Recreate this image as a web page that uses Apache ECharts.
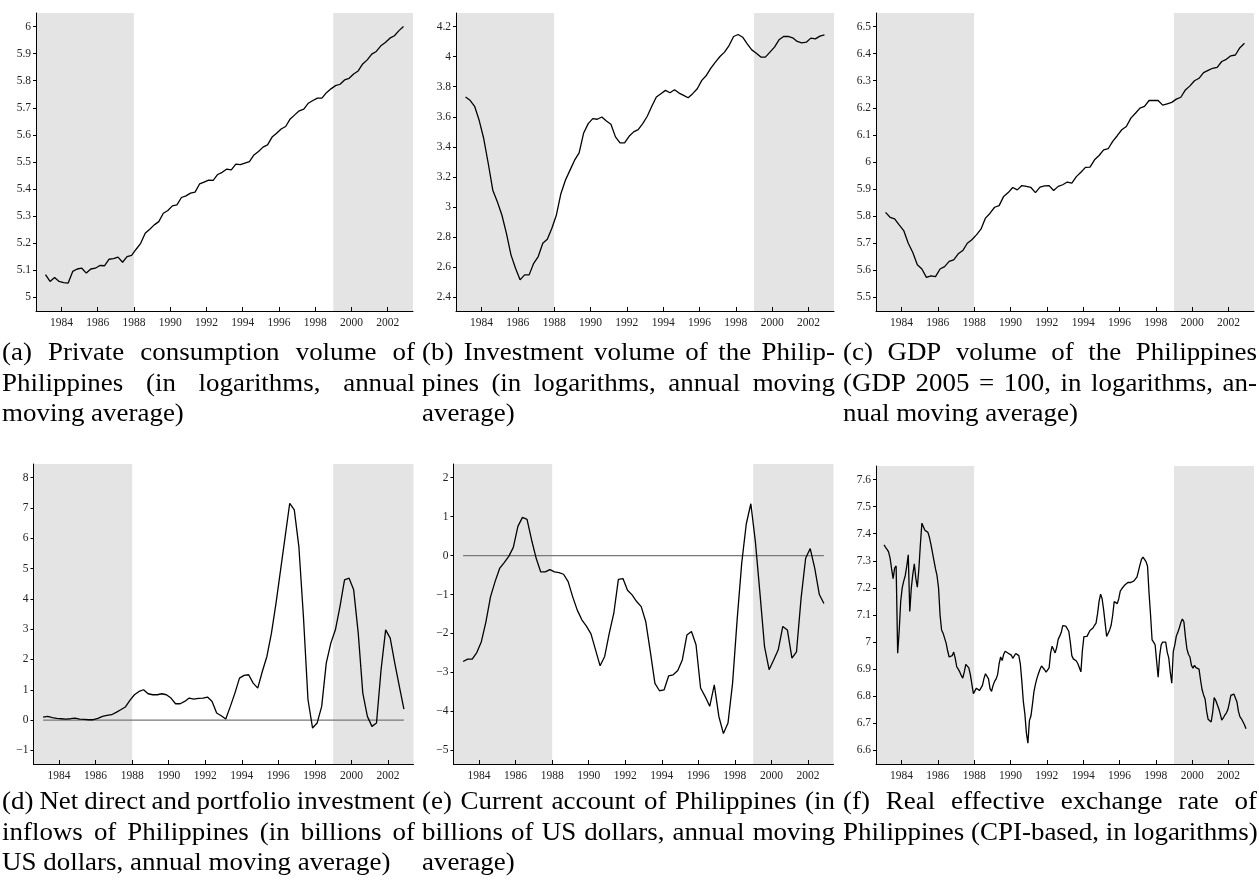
<!DOCTYPE html>
<html><head><meta charset="utf-8">
<script src="https://cdn.jsdelivr.net/npm/echarts@6/dist/echarts.min.js"></script>
<style>html,body{margin:0;padding:0;background:#fff;}#chart{width:1259px;height:880px;}</style>
</head><body><div id="chart"></div>
<script>
// ---------------- DATA ----------------
const yearTicks = [1984,1986,1988,1990,1992,1994,1996,1998,2000,2002];
const shadeEarlyEnd = 1988;
const shadeLateStart = 1999;

// (a) private consumption volume, log, quarterly 1983Q1-2002Q4
const consumption = [5.084,5.059,5.074,5.059,5.055,5.053,5.096,5.105,5.108,5.09,5.105,5.108,5.118,5.117,5.141,5.143,5.149,5.13,5.151,5.155,
5.178,5.2,5.237,5.252,5.268,5.28,5.311,5.321,5.338,5.342,5.369,5.375,5.385,5.389,5.419,5.426,5.433,5.432,5.454,5.462,
5.474,5.471,5.492,5.49,5.496,5.501,5.526,5.539,5.555,5.563,5.592,5.606,5.622,5.631,5.659,5.674,5.689,5.695,5.717,5.727,
5.736,5.736,5.756,5.77,5.782,5.787,5.803,5.809,5.825,5.836,5.862,5.877,5.898,5.908,5.929,5.941,5.957,5.966,5.985,6.0];
const ticksA = [5,5.1,5.2,5.3,5.4,5.5,5.6,5.7,5.8,5.9,6];

// (b) investment volume, log
const investment = [3.732,3.71,3.67,3.577,3.456,3.29,3.113,3.036,2.948,2.826,2.683,2.594,2.517,2.55,2.55,2.627,2.672,2.76,2.787,2.86,
2.948,3.091,3.18,3.246,3.312,3.361,3.493,3.555,3.588,3.584,3.599,3.573,3.551,3.467,3.427,3.427,3.471,3.5,3.515,3.555,
3.604,3.67,3.732,3.754,3.776,3.76,3.78,3.758,3.743,3.727,3.754,3.787,3.842,3.875,3.924,3.964,4.001,4.03,4.074,4.134,
4.147,4.129,4.085,4.045,4.023,3.997,3.997,4.03,4.063,4.112,4.134,4.134,4.125,4.101,4.092,4.096,4.123,4.118,4.136,4.145];
const ticksB = [2.4,2.6,2.8,3,3.2,3.4,3.6,3.8,4,4.2];

// (c) GDP volume, log
const gdp = [5.814,5.796,5.79,5.768,5.747,5.7,5.666,5.621,5.605,5.574,5.58,5.577,5.605,5.614,5.633,5.639,5.661,5.673,5.7,5.713,
5.731,5.752,5.793,5.811,5.833,5.839,5.873,5.887,5.906,5.897,5.913,5.91,5.906,5.887,5.907,5.912,5.913,5.895,5.91,5.916,
5.926,5.922,5.946,5.962,5.98,5.981,6.008,6.024,6.045,6.049,6.076,6.097,6.119,6.131,6.162,6.18,6.199,6.205,6.227,6.227,
6.227,6.21,6.215,6.22,6.232,6.239,6.266,6.281,6.3,6.309,6.33,6.338,6.346,6.349,6.371,6.379,6.392,6.395,6.422,6.438];
const ticksC = [5.5,5.6,5.7,5.8,5.9,6,6.1,6.2,6.3,6.4,6.5];

// (d) net direct and portfolio investment inflows, bn USD
const netInflows = [0.099,0.121,0.077,0.055,0.044,0.033,0.044,0.066,0.033,0.022,0.011,0.011,0.055,0.121,0.154,0.176,0.253,0.341,0.429,0.648,
0.835,0.945,1.0,0.868,0.835,0.835,0.868,0.835,0.725,0.538,0.538,0.615,0.725,0.692,0.714,0.725,0.758,0.615,0.231,0.143,
0.033,0.451,0.89,1.385,1.473,1.495,1.22,1.055,1.604,2.099,2.868,3.857,4.956,6.055,7.154,6.934,5.725,3.418,0.67,-0.264,
-0.099,0.451,1.879,2.538,2.978,3.747,4.626,4.681,4.297,2.868,0.89,0.121,-0.209,-0.099,1.659,2.978,2.703,1.879,1.11,0.363];
const ticksD = [-1,0,1,2,3,4,5,6,7,8];

// (e) current account, bn USD
const currentAccount = [-2.72,-2.66,-2.66,-2.49,-2.21,-1.70,-1.06,-0.67,-0.33,-0.18,-0.02,0.21,0.75,0.98,0.93,0.40,-0.07,-0.42,-0.42,-0.36,
-0.42,-0.44,-0.48,-0.67,-1.06,-1.40,-1.65,-1.81,-2.01,-2.42,-2.83,-2.59,-2.00,-1.48,-0.61,-0.59,-0.89,-1.01,-1.18,-1.31,
-1.70,-2.47,-3.28,-3.47,-3.45,-3.09,-3.06,-2.95,-2.68,-2.04,-1.95,-2.29,-3.40,-3.62,-3.87,-3.32,-4.13,-4.57,-4.30,-3.28,
-1.65,-0.20,0.81,1.33,0.35,-0.97,-2.34,-2.93,-2.68,-2.42,-1.82,-1.91,-2.63,-2.47,-1.10,-0.07,0.18,-0.33,-1.00,-1.23];
const ticksE = [-5,-4,-3,-2,-1,0,1,2];

// (f) real effective exchange rate, log, monthly 1983M1-2002M12
const reer = [7.359,7.35,7.342,7.333,7.31,7.27,7.234,7.273,7.281,6.959,7.04,7.15,7.2,7.225,7.245,7.28,7.322,7.113,7.199,7.25,
7.289,7.236,7.203,7.27,7.36,7.439,7.433,7.413,7.41,7.405,7.386,7.36,7.36,7.30,7.27,7.245,7.2,7.10,7.045,7.033,
7.03,6.996,6.968,6.945,6.938,6.95,6.963,6.941,6.909,6.9,6.89,6.877,6.867,6.89,6.918,6.92,6.905,6.88,6.845,6.81,
6.817,6.83,6.826,6.821,6.828,6.84,6.866,6.883,6.885,6.864,6.828,6.818,6.84,6.855,6.864,6.88,6.92,6.945,6.932,6.955,
6.966,6.962,6.959,6.963,6.952,6.94,6.94,6.958,6.958,6.95,6.92,6.855,6.78,6.735,6.665,6.627,6.71,6.727,6.77,6.817,
6.845,6.867,6.884,6.9,6.912,6.909,6.898,6.889,6.886,6.905,6.96,6.985,6.982,6.96,6.98,7.01,7.022,7.035,7.061,7.065,
7.059,7.058,7.04,7.0,6.95,6.938,6.945,6.93,6.92,6.905,6.89,6.97,7.02,7.017,7.021,7.028,7.043,7.045,7.052,7.062,
7.07,7.105,7.15,7.177,7.16,7.12,7.07,7.021,7.027,7.045,7.063,7.1,7.15,7.15,7.142,7.16,7.188,7.197,7.203,7.211,
7.217,7.22,7.221,7.22,7.221,7.226,7.229,7.24,7.262,7.285,7.305,7.314,7.31,7.297,7.28,7.18,7.10,7.008,7.0,6.99,
6.93,6.87,6.95,6.99,7.0,6.996,7.0,6.963,6.942,6.89,6.848,6.965,6.99,7.022,7.036,7.053,7.072,7.085,7.075,7.02,
6.975,6.955,6.945,6.914,6.904,6.914,6.906,6.905,6.9,6.86,6.825,6.805,6.79,6.745,6.715,6.708,6.705,6.74,6.795,6.785,
6.77,6.755,6.735,6.712,6.72,6.73,6.738,6.75,6.775,6.803,6.805,6.808,6.812,6.78,6.745,6.725,6.717,6.71,6.695,6.68];
const ticksF = [6.6,6.7,6.8,6.9,7,7.1,7.2,7.3,7.4,7.5,7.6];

const captions = [
  ["(a) Private consumption volume of", "Philippines (in logarithms, annual", "moving average)"],
  ["(b) Investment volume of the Philip-", "pines (in logarithms, annual moving", "average)"],
  ["(c) GDP volume of the Philippines", "(GDP 2005 = 100, in logarithms, an-", "nual moving average)"],
  ["(d) Net direct and portfolio investment", "inflows of Philippines (in billions of", "US dollars, annual moving average)"],
  ["(e) Current account of Philippines (in", "billions of US dollars, annual moving", "average)"],
  ["(f) Real effective exchange rate of", "Philippines (CPI-based, in logarithms)"]
];

// ---------------- BUILD ----------------
const quarterDates = consumption.map((_, i) => 1983 + (i + 0.5) / 4);
const monthDates = reer.map((_, i) => 1983 + (i + 0.5) / 12);
const X_MIN = 1982.6, X_MAX = 2003.4;
const SERIF = '"Liberation Serif", "Times New Roman", serif';

const panels = [
  {vals: consumption, dates: quarterDates, ticks: ticksA, left: 36, top: 13, width: 377, height: 298, zero: false},
  {vals: investment, dates: quarterDates, ticks: ticksB, left: 456, top: 13, width: 378, height: 298, zero: false},
  {vals: gdp, dates: quarterDates, ticks: ticksC, left: 876, top: 13, width: 378, height: 298, zero: false},
  {vals: netInflows, dates: quarterDates, ticks: ticksD, left: 33.5, top: 464, width: 380, height: 300, zero: true},
  {vals: currentAccount, dates: quarterDates, ticks: ticksE, left: 453.5, top: 464, width: 380, height: 300, zero: true},
  {vals: reer, dates: monthDates, ticks: ticksF, left: 876, top: 466, width: 378, height: 298, zero: false}
];

const fmt = v => String(v).replace('-', '\u2212');

const grids = [], xAxes = [], yAxes = [], series = [];
panels.forEach((p, i) => {
  const lo = p.ticks[0], hi = p.ticks[p.ticks.length - 1];
  const pad = (hi - lo) * 0.05;
  grids.push({left: p.left, top: p.top, width: p.width, height: p.height, containLabel: false});
  xAxes.push({
    type: 'value', gridIndex: i, min: X_MIN, max: X_MAX, z: 10,
    axisLine: {show: true, onZero: false, lineStyle: {color: '#000', width: 1}},
    axisTick: {show: true, inside: true, length: 4, customValues: yearTicks, lineStyle: {color: '#000'}},
    axisLabel: {show: true, customValues: yearTicks, formatter: v => String(v), fontFamily: SERIF, fontSize: 11.5, color: '#222', margin: 6},
    splitLine: {show: false}
  });
  yAxes.push({
    type: 'value', gridIndex: i, min: lo - pad, max: hi + pad, z: 10,
    axisLine: {show: true, onZero: false, lineStyle: {color: '#000', width: 1}},
    axisTick: {show: true, inside: false, length: 3, customValues: p.ticks, lineStyle: {color: '#000'}},
    axisLabel: {show: true, customValues: p.ticks, formatter: fmt, fontFamily: SERIF, fontSize: 11.5, color: '#222', margin: 5},
    splitLine: {show: false}
  });
  series.push({
    type: 'line', xAxisIndex: i, yAxisIndex: i, showSymbol: false, symbol: 'none', z: 3,
    data: p.vals.map((v, k) => [p.dates[k], v]),
    lineStyle: {color: '#000', width: 1.3}, silent: true,
    markArea: {silent: true, itemStyle: {color: '#e4e4e4'}, z: 1,
      data: [[{xAxis: X_MIN}, {xAxis: shadeEarlyEnd}], [{xAxis: shadeLateStart}, {xAxis: X_MAX}]]}
  });
  if (p.zero) {
    series.push({
      type: 'line', xAxisIndex: i, yAxisIndex: i, showSymbol: false, symbol: 'none', z: 2, silent: true,
      data: [[p.dates[0], 0], [p.dates[p.dates.length - 1], 0]],
      lineStyle: {color: '#777', width: 1.2}
    });
  }
});

// captions, justified (reference text is slightly wide, hence scaleX)
const CAP_SIZE = 24.5, CAP_SX = 1.1;
const CAP_FONT = CAP_SIZE + 'px ' + SERIF;
const ctx = document.createElement('canvas').getContext('2d');
ctx.font = CAP_FONT;
const capCols = [[2, 413], [422, 413], [843, 414]];
const capRowY = [354, 803];
const LINE_H = 30.5;
const graphics = [];
captions.forEach((lines, ci) => {
  const col = capCols[ci % 3];
  const y0 = capRowY[Math.floor(ci / 3)];
  lines.forEach((line, li) => {
    const words = line.split(' ');
    const widths = words.map(w => ctx.measureText(w).width * CAP_SX);
    const total = widths.reduce((a, b) => a + b, 0);
    const last = li === lines.length - 1;
    const gap = (last || words.length < 2) ? ctx.measureText(' ').width * CAP_SX : (col[1] - total) / (words.length - 1);
    let x = col[0];
    words.forEach((w, wi) => {
      graphics.push({type: 'text', x: x, y: y0 + li * LINE_H, scaleX: CAP_SX, silent: true,
        style: {text: w, font: CAP_FONT, fill: '#000', verticalAlign: 'middle', align: 'left'}});
      x += widths[wi] + gap;
    });
  });
});

const chart = echarts.init(document.getElementById('chart'), null, {renderer: 'canvas'});
chart.setOption({
  animation: false,
  backgroundColor: '#fff',
  grid: grids, xAxis: xAxes, yAxis: yAxes, series: series,
  graphic: {elements: graphics}
});
</script></body></html>
